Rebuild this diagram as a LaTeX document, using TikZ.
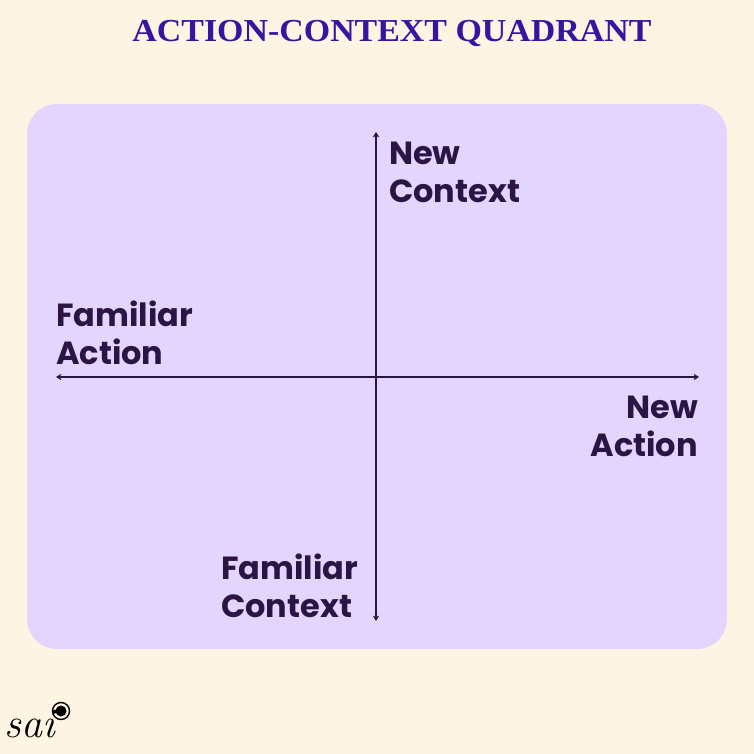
\documentclass[tikz,border=0pt]{standalone}
\usepackage{fontspec}
\setmainfont{Poppins}
\newfontfamily\titlefont{Liberation Serif}
\usetikzlibrary{arrows.meta}
\definecolor{bg}{HTML}{FDF4E4}
\definecolor{boxc}{HTML}{E3D5FD}
\definecolor{txt}{HTML}{2A1545}
\definecolor{ttl}{HTML}{3516A0}
\begin{document}
\begin{tikzpicture}[x=1pt,y=-1pt,
  lab/.style={font=\fontsize{32}{38}\selectfont\bfseries,text=txt,inner sep=0pt},
  ax/.style={draw=txt,line width=1.1pt,{Straight Barb[length=4pt,width=5pt]}-{Straight Barb[length=4pt,width=5pt]}}]
\fill[bg] (0,0) rectangle (754,754);
\useasboundingbox (0,0) rectangle (754,754);
\node[font=\titlefont\fontsize{32}{32}\selectfont\bfseries,text=ttl,xscale=1.06] (title) at (392,34) {ACTION-CONTEXT QUADRANT};
\fill[boxc,rounded corners=30pt] (27,104) rectangle (727,649);
\coordinate (l) at (56,377); \coordinate (r) at (699,377);
\coordinate (t) at (376,132); \coordinate (b) at (376,621);
\draw[ax] (l) -- (r);
\draw[ax] (t) -- (b);
\node[lab,align=left,anchor=north west] (nc) at (389,142) {New\\Context};
\node[lab,align=left,anchor=north west] (fa) at (56,301) {Familiar\\Action};
\node[lab,align=right,anchor=north east] (na) at (698,396) {New\\Action};
\node[lab,align=left,anchor=north west] (fc) at (221,554) {Familiar\\Context};
\node[font=\fontsize{42}{42}\selectfont\itshape\mdseries,text=black] (sai) at (30,724) {\fontspec{Latin Modern Roman}sai};
\draw[black,line width=1.4pt] (61,711) circle (8.5);
\fill[black] (61,711) circle (5.5);
\end{tikzpicture}
\end{document}
